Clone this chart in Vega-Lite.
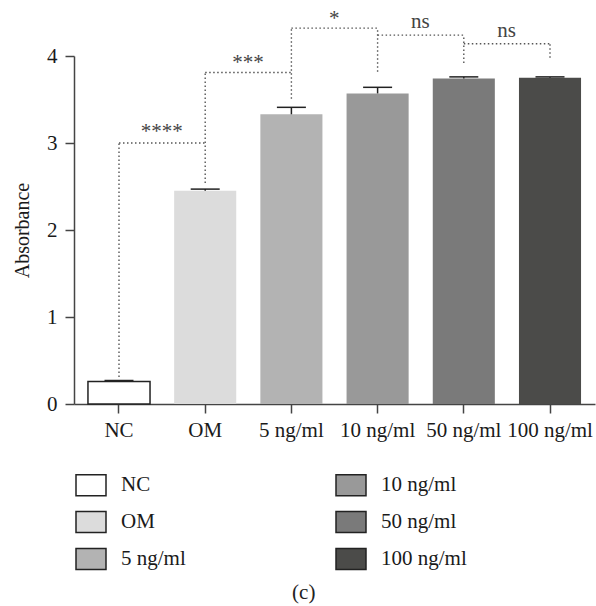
{
  "$schema": "https://vega.github.io/schema/vega-lite/v6.json",
  "autosize": "none",
  "width": 521,
  "height": 348,
  "padding": {"left": 74, "top": 56, "right": 1, "bottom": 202},
  "config": {"font": "Liberation Serif", "view": {"stroke": null}},
  "title": {"text": "(c)", "orient": "bottom", "anchor": "middle", "frame": "bounds", "fontSize": 21, "fontWeight": "normal", "font": "Liberation Serif", "color": "#222", "offset": 9},
  "datasets": {
    "bars": [
      {"group": "NC", "mean": 0.26, "upper": 0.27},
      {"group": "OM", "mean": 2.45, "upper": 2.47},
      {"group": "5 ng/ml", "mean": 3.33, "upper": 3.41},
      {"group": "10 ng/ml", "mean": 3.57, "upper": 3.64},
      {"group": "50 ng/ml", "mean": 3.74, "upper": 3.76},
      {"group": "100 ng/ml", "mean": 3.75, "upper": 3.76}
    ],
    "brackets": [
      {"from": "NC", "to": "OM", "level": 3.0},
      {"from": "OM", "to": "5 ng/ml", "level": 3.81},
      {"from": "5 ng/ml", "to": "10 ng/ml", "level": 4.32},
      {"from": "10 ng/ml", "to": "50 ng/ml", "level": 4.24},
      {"from": "50 ng/ml", "to": "100 ng/ml", "level": 4.14}
    ],
    "legs": [
      {"g": "NC", "lo": 0.31, "hi": 3.0},
      {"g": "OM", "lo": 2.54, "hi": 3.81},
      {"g": "5 ng/ml", "lo": 3.51, "hi": 4.32},
      {"g": "10 ng/ml", "lo": 3.82, "hi": 4.32},
      {"g": "50 ng/ml", "lo": 3.92, "hi": 4.24},
      {"g": "100 ng/ml", "lo": 3.98, "hi": 4.14}
    ],
    "labels": [
      {"from": "NC", "pos": 3.13, "label": "****"},
      {"from": "OM", "pos": 3.92, "label": "***"},
      {"from": "5 ng/ml", "pos": 4.43, "label": "*"},
      {"from": "10 ng/ml", "pos": 4.39, "label": "ns"},
      {"from": "50 ng/ml", "pos": 4.29, "label": "ns"}
    ]
  },
  "layer": [
    {
      "data": {"name": "bars"},
      "mark": {"type": "bar", "clip": false},
      "encoding": {
        "x": {
          "field": "group", "type": "nominal",
          "scale": {"domain": ["NC", "OM", "5 ng/ml", "10 ng/ml", "50 ng/ml", "100 ng/ml"], "paddingInner": 0.28, "paddingOuter": 0.162},
          "axis": {"title": null, "labelAngle": 0, "tickSize": 9, "labelPadding": 6, "domainColor": "#444", "tickColor": "#444", "domainWidth": 1.5, "tickWidth": 1.5, "labelFontSize": 21, "labelFont": "Liberation Serif", "labelColor": "#1a1a1a"}
        },
        "y": {
          "field": "mean", "type": "quantitative",
          "scale": {"domain": [0, 4], "nice": false},
          "axis": {"values": [0, 1, 2, 3, 4], "format": "d", "title": "Absorbance", "grid": false, "tickSize": 9, "labelPadding": 8, "titlePadding": 14, "domainColor": "#444", "tickColor": "#444", "domainWidth": 1.5, "tickWidth": 1.5, "labelFontSize": 21, "titleFontSize": 20, "titleFontWeight": "normal", "labelFont": "Liberation Serif", "titleFont": "Liberation Serif", "labelColor": "#1a1a1a", "titleColor": "#1a1a1a"}
        },
        "color": {
          "field": "group", "type": "nominal",
          "scale": {"domain": ["NC", "OM", "5 ng/ml", "10 ng/ml", "50 ng/ml", "100 ng/ml"], "range": ["#ffffff", "#dcdcdc", "#b3b3b3", "#999999", "#7a7a7a", "#4b4b49"]},
          "legend": {
            "orient": "none", "legendX": 1, "legendY": 413, "columns": 2, "columnPadding": 147, "rowPadding": 7,
            "title": null, "symbolType": "M-1,-0.7H1V0.7H-1Z", "symbolSize": 900, "labelFontSize": 21, "labelFont": "Liberation Serif",
            "labelOffset": 14, "labelColor": "#1a1a1a", "labelLimit": 300, "symbolOpacity": 1, "padding": 0,
            "encode": {"symbols": {"update": {"stroke": {"value": "#222"}, "strokeWidth": [{"test": "datum.value === 'NC'", "value": 1.5}, {"value": 0}]}}}
          }
        },
        "stroke": {"value": "#222"},
        "strokeWidth": {"condition": {"test": "datum.group === 'NC'", "value": 1.5}, "value": 0},
        "opacity": {"value": 1}
      }
    },
    {
      "data": {"name": "bars"},
      "mark": {"type": "rule", "color": "#222", "strokeWidth": 1.5, "clip": false},
      "encoding": {
        "x": {"field": "group", "type": "nominal"},
        "y": {"field": "mean", "type": "quantitative"},
        "y2": {"field": "upper"}
      }
    },
    {
      "data": {"name": "bars"},
      "mark": {"type": "tick", "orient": "horizontal", "size": 29, "thickness": 1.5, "color": "#222", "opacity": 1, "clip": false},
      "encoding": {
        "x": {"field": "group", "type": "nominal"},
        "y": {"field": "upper", "type": "quantitative"}
      }
    },
    {
      "data": {"name": "brackets"},
      "mark": {"type": "rule", "color": "#555", "strokeWidth": 1.4, "strokeDash": [1.5, 2.5], "clip": false},
      "encoding": {
        "x": {"field": "from", "type": "nominal", "bandPosition": 0.5},
        "x2": {"field": "to", "bandPosition": 0.5},
        "y": {"field": "level", "type": "quantitative"}
      }
    },
    {
      "data": {"name": "legs"},
      "mark": {"type": "rule", "color": "#555", "strokeWidth": 1.4, "strokeDash": [1.5, 2.5], "clip": false},
      "encoding": {
        "x": {"field": "g", "type": "nominal"},
        "y": {"field": "lo", "type": "quantitative"},
        "y2": {"field": "hi"}
      }
    },
    {
      "data": {"name": "labels"},
      "mark": {"type": "text", "fontSize": 21, "font": "Liberation Serif", "color": "#444", "baseline": "middle", "align": "center", "clip": false},
      "encoding": {
        "x": {"field": "from", "type": "nominal", "bandPosition": 1.19},
        "y": {"field": "pos", "type": "quantitative"},
        "text": {"field": "label"}
      }
    }
  ]
}
